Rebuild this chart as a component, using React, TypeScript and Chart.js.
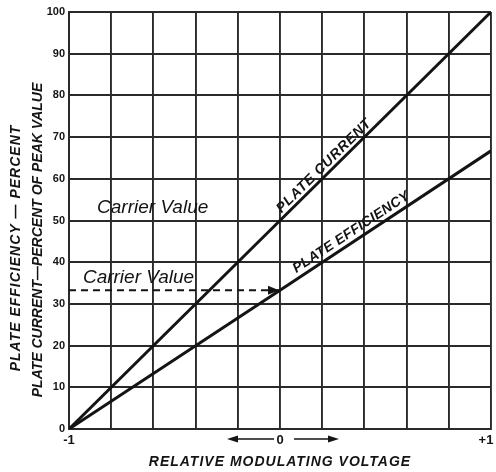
import React, { useEffect, useRef } from "react";
import { Chart, registerables } from "chart.js";

Chart.register(...registerables);

// ---- data ----
const voltage = [-1, 0, 1];
const plateCurrent = [0, 50, 100];
const plateEfficiency = [0, 33.3, 66.7];
const carrierVoltage = [-1, 0];
const carrierEfficiency = [33.3, 33.3];
const xTickLabels: Record<string, string> = { "-1": "-1", "0": "0", "1": "+1\u2002 " };
const yTitleLines = ["PLATE EFFICIENCY — PERCENT", "PLATE CURRENT—PERCENT OF PEAK VALUE"];
const xTitle = "RELATIVE MODULATING VOLTAGE";
const currentLabel = "PLATE CURRENT";
const efficiencyLabel = "PLATE EFFICIENCY";
const carrierLabel = "Carrier Value";

const INK = "#141414";
const GRID = "#2a2a2a";
const LETTER = 'italic bold 14px "Liberation Sans"';

const annotations = {
  id: "annotations",
  afterDatasetsDraw(chart: any) {
    const { ctx, scales } = chart;
    const x = scales.x;
    const y = scales.y;
    ctx.save();
    ctx.fillStyle = INK;
    ctx.strokeStyle = INK;

    // arrowhead at end of carrier dashed line
    const ax = x.getPixelForValue(carrierVoltage[carrierVoltage.length - 1]);
    const ay = y.getPixelForValue(carrierEfficiency[carrierEfficiency.length - 1]);
    ctx.beginPath();
    ctx.moveTo(ax - 1, ay);
    ctx.lineTo(ax - 12, ay - 4.5);
    ctx.lineTo(ax - 12, ay + 4.5);
    ctx.closePath();
    ctx.fill();

    // "Carrier Value" labels
    ctx.font = 'italic 19px "Liberation Sans"';
    ctx.textBaseline = "alphabetic";
    ctx.textAlign = "left";
    ctx.fillText(carrierLabel, x.getPixelForValue(-0.867), y.getPixelForValue(51.8));
    ctx.fillText(carrierLabel, x.getPixelForValue(-0.934), y.getPixelForValue(35));

    // labels along lines
    const along = (text: string, ys: number[], startX: number, offset: number, spacing: string) => {
      const x0 = x.getPixelForValue(voltage[0]);
      const y0 = y.getPixelForValue(ys[0]);
      const x1 = x.getPixelForValue(voltage[voltage.length - 1]);
      const y1 = y.getPixelForValue(ys[ys.length - 1]);
      const ang = Math.atan2(y1 - y0, x1 - x0);
      const sx = x.getPixelForValue(startX);
      const t = (sx - x0) / (x1 - x0);
      const sy = y0 + t * (y1 - y0);
      ctx.save();
      ctx.translate(sx, sy);
      ctx.rotate(ang);
      ctx.font = LETTER;
      (ctx as any).letterSpacing = spacing;
      ctx.textBaseline = "alphabetic";
      ctx.fillText(text, 0, -offset);
      ctx.restore();
    };
    along(currentLabel, plateCurrent, 0.02, 4, "0.8px");
    along(efficiencyLabel, plateEfficiency, 0.09, 5, "0.3px");

    // arrows around "0"
    const zx = x.getPixelForValue(0) + 2;
    const zy = y.bottom + 10;
    ctx.lineWidth = 1.6;
    ctx.beginPath();
    ctx.moveTo(zx - 48, zy);
    ctx.lineTo(zx - 8, zy);
    ctx.moveTo(zx + 12, zy);
    ctx.lineTo(zx + 50, zy);
    ctx.stroke();
    ctx.beginPath();
    ctx.moveTo(zx - 55, zy);
    ctx.lineTo(zx - 44, zy - 3.5);
    ctx.lineTo(zx - 44, zy + 3.5);
    ctx.closePath();
    ctx.moveTo(zx + 57, zy);
    ctx.lineTo(zx + 46, zy - 3.5);
    ctx.lineTo(zx + 46, zy + 3.5);
    ctx.closePath();
    ctx.fill();

    // axis titles
    ctx.font = LETTER;
    ctx.textAlign = "center";
    ctx.textBaseline = "middle";
    (ctx as any).letterSpacing = "1px";
    ctx.fillText(xTitle, (x.left + x.right) / 2, 462);
    ctx.save();
    ctx.translate(16, 248);
    ctx.rotate(-Math.PI / 2);
    ctx.fillText(yTitleLines[0], 0, 0);
    ctx.restore();
    (ctx as any).letterSpacing = "0px";
    ctx.save();
    ctx.translate(38, 240);
    ctx.rotate(-Math.PI / 2);
    ctx.fillText(yTitleLines[1], 0, 0);
    ctx.restore();

    ctx.restore();
  },
};

export default function App() {
  const ref = useRef<HTMLCanvasElement | null>(null);

  useEffect(() => {
    if (!ref.current) return;
    const chart = new Chart(ref.current, {
      type: "line",
      data: {
        datasets: [
          {
            label: currentLabel,
            data: voltage.map((v, i) => ({ x: v, y: plateCurrent[i] })),
            borderColor: INK,
            borderWidth: 3,
            pointRadius: 0,
          },
          {
            label: efficiencyLabel,
            data: voltage.map((v, i) => ({ x: v, y: plateEfficiency[i] })),
            borderColor: INK,
            borderWidth: 3,
            pointRadius: 0,
          },
          {
            label: carrierLabel,
            data: carrierVoltage.map((v, i) => ({ x: v, y: carrierEfficiency[i] })),
            borderColor: INK,
            borderWidth: 2,
            borderDash: [7, 5],
            pointRadius: 0,
          },
        ],
      },
      options: {
        animation: false,
        responsive: true,
        maintainAspectRatio: false,
        layout: { padding: { left: 0, top: 12, right: 5, bottom: 0 } },
        plugins: { legend: { display: false }, tooltip: { enabled: false } },
        scales: {
          x: {
            type: "linear",
            min: -1,
            max: 1,
            ticks: {
              stepSize: 0.2,
              autoSkip: false,
              maxRotation: 0,
              padding: 4,
              color: INK,
              font: { family: "Liberation Sans", size: 13, weight: "bold" },
              callback: (v: any) => {
                const key = String(Math.round(Number(v) * 1000) / 1000);
                return xTickLabels[key === "-0" ? "0" : key] ?? "";
              },
            },
            grid: { color: GRID, lineWidth: 1.9, drawTicks: false },
            border: { color: GRID, width: 1.9 },
            afterFit: (s: any) => {
              s.height = 43;
              s.paddingLeft = 0;
              s.paddingRight = 0;
            },
          },
          y: {
            min: 0,
            max: 100,
            ticks: {
              stepSize: 10,
              padding: 4,
              color: INK,
              font: { family: "Liberation Sans", size: 11, weight: "bold" },
            },
            grid: { color: GRID, lineWidth: 1.9, drawTicks: false },
            border: { color: GRID, width: 1.9 },
            afterFit: (s: any) => {
              s.width = 69;
              s.paddingTop = 0;
              s.paddingBottom = 0;
            },
          },
        },
      },
      plugins: [annotations],
    });
    return () => chart.destroy();
  }, []);

  return (
    <div style={{ position: "absolute", left: 0, top: 0, width: 496, height: 472, background: "#fff" }}>
      <canvas ref={ref} />
    </div>
  );
}
